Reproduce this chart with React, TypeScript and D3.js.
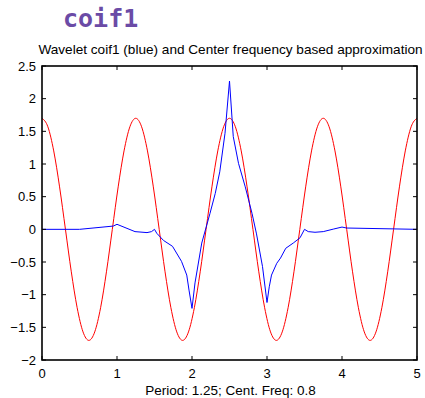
import React from "react";
import * as d3 from "d3";

const titleText = "coif1";
const axesTitle = "Wavelet coif1 (blue) and Center frequency based approximation";
const xLabel = "Period: 1.25; Cent. Freq: 0.8";
const xTicks = [0, 1, 2, 3, 4, 5];
const yTicks = [-2, -1.5, -1, -0.5, 0, 0.5, 1, 1.5, 2, 2.5];

const blueX = [0, 0.5, 0.95, 1.0, 1.24, 1.4, 1.46, 1.5, 1.53, 1.62, 1.74, 1.86, 1.93, 1.96, 2.0, 2.04, 2.13, 2.24, 2.31, 2.37, 2.44, 2.5, 2.55, 2.62, 2.71, 2.8, 2.86, 2.94, 3.0, 3.03, 3.06, 3.13, 3.18, 3.25, 3.35, 3.44, 3.5, 3.55, 3.64, 3.75, 3.89, 4.0, 4.06, 5.0];
const blueY = [0, 0, 0.05, 0.077, -0.035, -0.05, -0.035, 0.0, -0.06, -0.17, -0.26, -0.49, -0.7, -0.93, -1.21, -0.82, -0.21, 0.245, 0.55, 0.88, 1.47, 2.27, 1.42, 1.01, 0.65, 0.245, -0.07, -0.57, -1.12, -0.88, -0.7, -0.52, -0.44, -0.29, -0.21, -0.13, 0.0, -0.035, -0.045, -0.035, 0.005, 0.035, 0.02, 0];

const redX = [
  0, 0.078125, 0.15625, 0.234375, 0.3125, 0.390625, 0.46875, 0.546875,
  0.625, 0.703125, 0.78125, 0.859375, 0.9375, 1.015625, 1.09375, 1.171875,
  1.25, 1.328125, 1.40625, 1.484375, 1.5625, 1.640625, 1.71875, 1.796875,
  1.875, 1.953125, 2.03125, 2.109375, 2.1875, 2.265625, 2.34375, 2.421875,
  2.5, 2.578125, 2.65625, 2.734375, 2.8125, 2.890625, 2.96875, 3.046875,
  3.125, 3.203125, 3.28125, 3.359375, 3.4375, 3.515625, 3.59375, 3.671875,
  3.75, 3.828125, 3.90625, 3.984375, 4.0625, 4.140625, 4.21875, 4.296875,
  4.375, 4.453125, 4.53125, 4.609375, 4.6875, 4.765625, 4.84375, 4.921875,
  5,
];
const redY = [
  1.7, 1.57, 1.2, 0.65, 0, -0.65, -1.2, -1.57,
  -1.7, -1.57, -1.2, -0.65, 0, 0.65, 1.2, 1.57,
  1.7, 1.57, 1.2, 0.65, 0, -0.65, -1.2, -1.57,
  -1.7, -1.57, -1.2, -0.65, 0, 0.65, 1.2, 1.57,
  1.7, 1.57, 1.2, 0.65, 0, -0.65, -1.2, -1.57,
  -1.7, -1.57, -1.2, -0.65, 0, 0.65, 1.2, 1.57,
  1.7, 1.57, 1.2, 0.65, 0, -0.65, -1.2, -1.57,
  -1.7, -1.57, -1.2, -0.65, 0, 0.65, 1.2, 1.57,
  1.7,
];

const W = 425;
const H = 398;
const L = 42, R = 417, T = 66, B = 360;

const fmt = (v: number) => (v < 0 ? "\u2212" + String(-v) : String(v));

export default function App() {
  const x = d3.scaleLinear().domain([0, 5]).range([L, R]);
  const y = d3.scaleLinear().domain([-2, 2.5]).range([B, T]);
  const blue: [number, number][] = blueX.map((v, i) => [v, blueY[i]]);
  const red: [number, number][] = redX.map((v, i) => [v, redY[i]]);
  const lineLin = d3.line<[number, number]>().x((d) => x(d[0])).y((d) => y(d[1]));
  const lineSmooth = d3
    .line<[number, number]>()
    .x((d) => x(d[0]))
    .y((d) => y(d[1]))
    .curve(d3.curveMonotoneX);
  const font = "'Liberation Sans', Arial, Helvetica, sans-serif";
  const tl = 4;
  return (
    <svg
      width={W}
      height={H}
      style={{ position: "absolute", left: 0, top: 0, background: "#fff" }}
    >
      <text
        x={63}
        y={27}
        fontFamily="'DejaVu Sans Mono', monospace"
        fontWeight="bold"
        fontSize={25}
        fill="#6b4ba6"
      >
        {titleText}
      </text>
      <text x={(L + R) / 2 + 1} y={54} textAnchor="middle" fontFamily={font} fontSize={13.6} fill="#000">
        {axesTitle}
      </text>
      <defs>
        <clipPath id="plotclip">
          <rect x={L} y={T} width={R - L} height={B - T} />
        </clipPath>
      </defs>
      <g clipPath="url(#plotclip)" fill="none" strokeWidth={1}>
        <path d={lineSmooth(red) || ""} stroke="#ff0000" />
        <path d={lineLin(blue) || ""} stroke="#0000ff" />
      </g>
      <g stroke="#000" strokeWidth={1}>
        {xTicks.map((t) => (
          <g key={"xt" + t}>
            <line x1={x(t)} x2={x(t)} y1={B} y2={B - tl} />
            <line x1={x(t)} x2={x(t)} y1={T} y2={T + tl} />
          </g>
        ))}
        {yTicks.map((t) => (
          <g key={"yt" + t}>
            <line x1={L} x2={L + tl} y1={y(t)} y2={y(t)} />
            <line x1={R} x2={R - tl} y1={y(t)} y2={y(t)} />
          </g>
        ))}
      </g>
      <rect x={L} y={T} width={R - L} height={B - T} fill="none" stroke="#000" strokeWidth={1.6} />
      <g fontFamily={font} fontSize={13} fill="#000">
        {xTicks.map((t) => (
          <text key={"xl" + t} x={x(t)} y={B + 18} textAnchor="middle">
            {fmt(t)}
          </text>
        ))}
        {yTicks.map((t) => (
          <text key={"yl" + t} x={L - 6} y={y(t) + 4.5} textAnchor="end">
            {fmt(t)}
          </text>
        ))}
        <text x={(L + R) / 2 + 1} y={B + 35} textAnchor="middle" fontSize={13.5}>
          {xLabel}
        </text>
      </g>
    </svg>
  );
}
